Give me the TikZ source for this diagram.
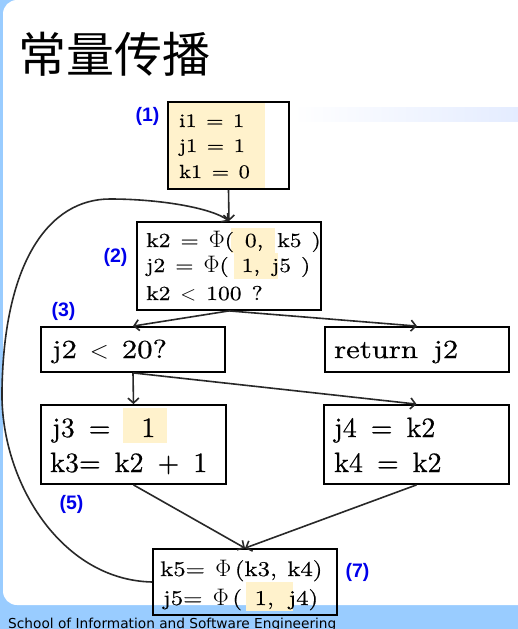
\documentclass[tikz,border=0pt]{standalone}
\usepackage{fontspec}
\usetikzlibrary{arrows.meta}
\newfontfamily\cjkfont{Noto Sans CJK SC}
\newfontfamily\labfont{Liberation Sans}
\newfontfamily\footfont{DejaVu Sans}
\newfontfamily\bxfam{lmroman10-regular}[Extension=.otf,FakeStretch=1.18,FakeBold=0.5]
\newfontfamily\bxplain{lmroman10-regular}[Extension=.otf,FakeBold=0.5]
\newcommand\sk{\hspace{0.5em}}
\newcommand\bigphi{\scalebox{1.15}{$\Phi$}}
\definecolor{bgblue}{RGB}{153,204,255}
\definecolor{hl}{RGB}{255,242,204}
\definecolor{labc}{RGB}{0,0,235}
\definecolor{band}{RGB}{228,236,255}
\definecolor{edgec}{RGB}{40,40,40}
\tikzset{
 blk/.style={draw=black, line width=1.8pt, rectangle, inner sep=0pt},
 lbl/.style={text=labc, font=\labfont\bfseries\fontsize{19.5}{19.5}\selectfont, inner sep=0pt},
 ln/.style={anchor=base west, inner sep=0pt},
 arr/.style={draw=edgec, line width=1.6pt, -{Straight Barb[length=5pt,width=11pt]}},
}
\begin{document}
\begin{tikzpicture}[x=1pt,y=-1pt]
\useasboundingbox (0,0) rectangle (518,629);
\fill[bgblue] (0,0) rectangle (518,629);
\fill[white, rounded corners=14pt] (3,0) rectangle (560,605);
\shade[left color=white, right color=band] (293,107) rectangle (518,121);
\node[anchor=west, inner sep=0pt, font=\cjkfont\fontsize{48}{48}\selectfont] (title) at (18,54) {常量传播};
\node[ln, font=\footfont\fontsize{13.7}{13.7}\selectfont] (foot) at (8,628) {School of Information and Software Engineering};
% highlights
\fill[hl] (169,102) rectangle (265,188);
\fill[hl] (231,228) rectangle (275,253);
\fill[hl] (234,253) rectangle (278,279);
\fill[hl] (123,408) rectangle (167,443);
\fill[hl] (246,582) rectangle (293,611);
% boxes
\node[blk, minimum width=121pt, minimum height=87pt] (b1) at (228.5,145.5) {};
\node[blk, minimum width=184pt, minimum height=88pt] (b2) at (229,266) {};
\node[blk, minimum width=184pt, minimum height=45pt] (b3) at (133,349.5) {};
\node[blk, minimum width=184pt, minimum height=45pt] (rt) at (417,349.5) {};
\node[blk, minimum width=185pt, minimum height=79pt] (b4) at (133.5,444.5) {};
\node[blk, minimum width=185pt, minimum height=79pt] (b6) at (416.5,444.5) {};
\node[blk, minimum width=184pt, minimum height=66pt] (b7) at (245,582) {};
% labels
\node[lbl] (l1) at (147.5,116) {(1)};
\node[lbl] (l2) at (115.5,257) {(2)};
\node[lbl] (l3) at (63.5,311) {(3)};
\node[lbl] (l5) at (71.5,504) {(5)};
\node[lbl] (l7) at (357.5,572) {(7)};
% texts
\begin{scope}[every node/.append style={ln, font=\bxfam\fontsize{19}{19}\selectfont}]
\node (t1a) at (179,127) {i1\sk=\sk1};
\node (t1b) at (179,152) {j1\sk=\sk1};
\node (t1c) at (179,178) {k1\sk=\sk0};
\end{scope}
\begin{scope}[every node/.append style={ln, font=\bxfam\fontsize{20}{20}\selectfont}]
\node (t2a) at (146,247) {k2\sk=\sk\bigphi(\hspace{0.55em}0,\hspace{0.7em}k5\hspace{0.5em})};
\node (t2b) at (146,272) {j2\sk=\sk\bigphi(\hspace{0.65em}1,\hspace{0.6em}j5\hspace{0.5em})};
\node (t2c) at (146,300) {k2\sk$<$\sk100\sk?};
\end{scope}
\begin{scope}[every node/.append style={ln, font=\bxfam\fontsize{26}{26}\selectfont}]
\node (t3) at (52,358) {j2\sk$<$\sk20?};
\node (tr) at (334,358) {return\hspace{0.6em}j2};
\end{scope}
\begin{scope}[every node/.append style={ln, font=\bxplain\fontsize{28}{28}\selectfont}]
\node (t4a) at (52,437) {j3\sk=\hspace{1.1em}1};
\node (t4b) at (50,472) {k3=\sk k2\sk+\sk1};
\node (t6a) at (334,437) {j4\sk=\sk k2};
\node (t6b) at (334,472) {k4\sk=\sk k2};
\end{scope}
\begin{scope}[every node/.append style={ln, font=\bxfam\fontsize{21}{21}\selectfont}]
\node (t7a) at (160,576) {k5=\sk\bigphi\,(k3,\sk k4)};
\node (t7b) at (163,605) {j5=\sk\bigphi\,(\hspace{0.6em}1,\hspace{0.7em}j4)};
\end{scope}
% connectors
\draw[arr] (b1.south) -- (b2.north);
\draw[arr] (b2.south) -- (b3.north);
\draw[arr] (b2.south) -- (rt.north);
\draw[arr] (b3.south) -- (b4.north);
\draw[arr] (b3.south) -- (b6.north);
\draw[arr] (b4.south) -- (b7.north);
\draw[arr] (b6.south) -- (b7.north);
\draw[arr] (b7.west) .. controls (60,580) and (0,480) .. (2,390) .. controls (4,260) and (50,199) .. (110,199) .. controls (160,199) and (212,208) .. (b2.north);
\end{tikzpicture}
\end{document}
